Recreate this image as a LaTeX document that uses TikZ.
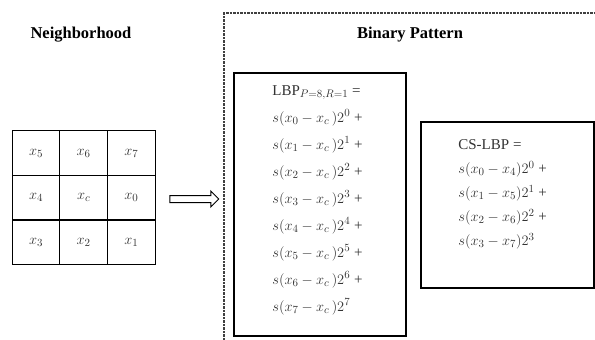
\documentclass[tikz,border=0pt]{standalone}
\usepackage{fontspec}
\setmainfont{Liberation Serif}
\usetikzlibrary{shapes.arrows}

\begin{document}
\begin{tikzpicture}[x=1pt, y=-1pt, thick,
  heading/.style={font=\fontsize{16.5}{20}\selectfont\bfseries},
  cell/.style={draw, line width=1.2pt, minimum width=47.7pt, minimum height=44.7pt, font=\fontsize{15}{18}\selectfont, text=black!80},
  panel/.style={draw, line width=1.3pt, inner sep=0pt},
  formula/.style={align=left, anchor=north west, inner sep=0pt, text=black!80}]
\useasboundingbox (0,0) rectangle (595,340);
\node[heading] (neigh) at (81,35) {Neighborhood};
\node[heading] (binpat) at (410,35) {Binary Pattern};
% 3x3 neighbourhood
\foreach \lab [count=\i from 0] in {5,6,7,4,c,0,3,2,1}
  \node[cell] (x\lab) at ({36+47.7*mod(\i,3)},{153+44.7*int(\i/3)}) {$x_\lab$};
\node[single arrow, draw, line width=1pt, inner xsep=0pt, inner ysep=3pt,
  minimum height=49pt, single arrow head extend=4.5pt] (toright) at (192.5,199) {};
% dashed frame
\draw[black!75, line width=2pt, dash pattern=on 2.5pt off 1pt] (224,340) |- (595,13);
\node[panel, minimum width=172pt, minimum height=263pt] (lbpbox) at (320,204.5) {};
\node[formula, font=\fontsize{15}{27}\selectfont] (lbptext) at (272,85) {LBP$_{P=8,R=1}$ =\\
  $s(x_0 - x_c\,)2^0$ +\\ $s(x_1 - x_c\,)2^1$ +\\ $s(x_2 - x_c\,)2^2$ +\\ $s(x_3 - x_c\,)2^3$ +\\
  $s(x_4 - x_c\,)2^4$ +\\ $s(x_5 - x_c\,)2^5$ +\\ $s(x_6 - x_c\,)2^6$ +\\ $s(x_7 - x_c\,)2^7$};
\node[panel, minimum width=173pt, minimum height=166pt] (csbox) at (507.5,205) {};
\node[formula, font=\fontsize{15}{24}\selectfont] (cstext) at (458,139) {CS-LBP =\\
  $s(x_0 - x_4)2^0$ +\\ $s(x_1 - x_5)2^1$ +\\ $s(x_2 - x_6)2^2$ +\\ $s(x_3 - x_7)2^3$};
\end{tikzpicture}
\end{document}
